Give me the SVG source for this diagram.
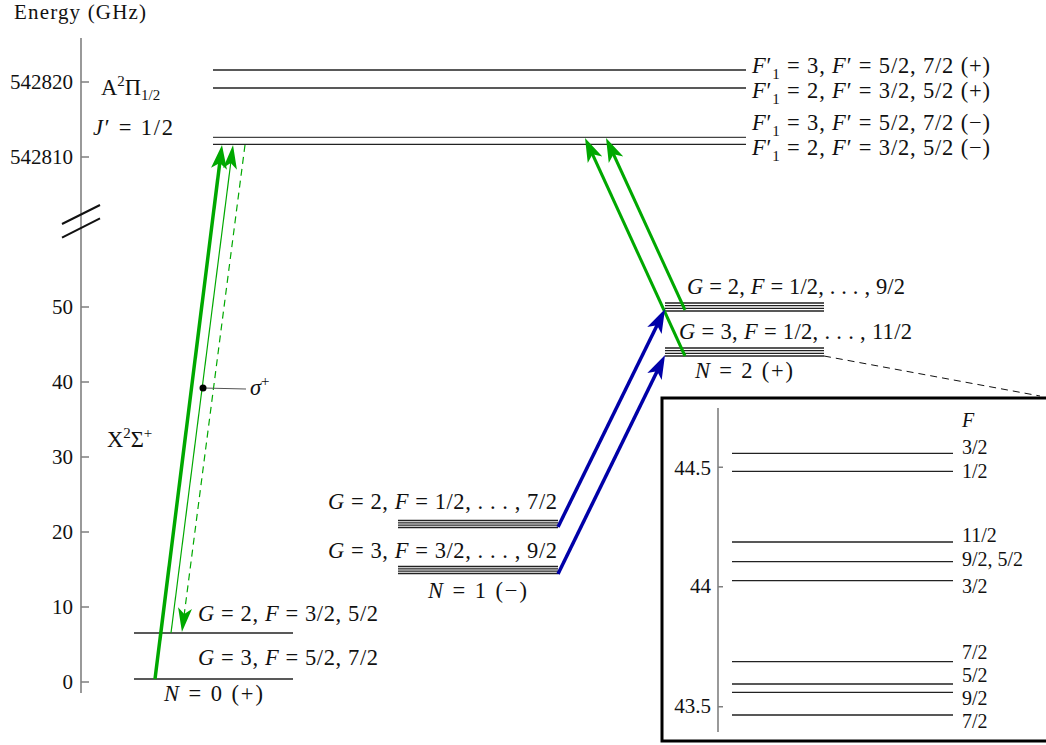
<svg xmlns="http://www.w3.org/2000/svg" width="1046" height="745" viewBox="0 0 1046 745">
<style>
.t{font-family:"Liberation Serif","Times New Roman",serif;font-size:22.5px;fill:#111}
.n{font-size:21px}
.f{font-size:20px}
.i{font-style:italic}
.s{font-size:15px}
.lv{stroke:#222;stroke-width:1.3;fill:none}
.lg{stroke:#444;stroke-width:1.3;fill:none}
.ax{stroke:#808080;stroke-width:1.6;fill:none}
.g{stroke:#00a800;fill:none}
.b{stroke:#0000a8;stroke-width:3.5;fill:none}
</style>
<defs>
<marker id="ag" markerUnits="userSpaceOnUse" markerWidth="30" markerHeight="20" viewBox="0 -10 30 20" refX="8" refY="0" orient="auto"><path d="M0,-8 L24,0 L0,8 L6,0 Z" fill="#00a800"/></marker>
<marker id="agt" markerUnits="userSpaceOnUse" markerWidth="30" markerHeight="20" viewBox="0 -10 30 20" refX="8" refY="0" orient="auto"><path d="M0,-7 L24,0 L0,7 L6,0 Z" fill="#00a800"/></marker>
<marker id="ab" markerUnits="userSpaceOnUse" markerWidth="30" markerHeight="20" viewBox="0 -10 30 20" refX="8" refY="0" orient="auto"><path d="M0,-8 L24,0 L0,8 L6,0 Z" fill="#0000a8"/></marker>
</defs>

<g id="axis">
<line class="ax" x1="81" y1="38" x2="81" y2="693"/>
<path class="ax" d="M81,82h8M81,157h8M81,307h8M81,382h8M81,457h8M81,532h8M81,607h8M81,682h8"/>
<path d="M62,224L100,205M62,237.7L100,218.3" stroke="#111" stroke-width="2"/>
<text class="t n" x="14" y="19" textLength="132" lengthAdjust="spacing">Energy (GHz)</text>
<g class="t n" text-anchor="end">
<text x="73" y="89">542820</text>
<text x="73" y="164">542810</text>
<text x="73" y="314">50</text>
<text x="73" y="389">40</text>
<text x="73" y="464">30</text>
<text x="73" y="539">20</text>
<text x="73" y="614">10</text>
<text x="73" y="689">0</text>
</g>
</g>

<g id="A-state">
<line class="lv" x1="213" y1="70" x2="746" y2="70"/>
<line class="lv" x1="213" y1="88" x2="746" y2="88"/>
<line class="lg" x1="213" y1="137.3" x2="746" y2="137.3"/>
<line class="lv" x1="213" y1="144.3" x2="746" y2="144.3"/>
<text class="t" x="101" y="95">A<tspan class="s" dy="-9">2</tspan><tspan dy="9">Π</tspan><tspan class="s" dy="5">1/2</tspan></text>
<text class="t" x="93" y="135" textLength="80" lengthAdjust="spacing"><tspan class="i">J</tspan>′ = 1/2</text>
<text class="t" x="752" y="73" textLength="238" lengthAdjust="spacing"><tspan class="i">F</tspan>′<tspan class="s" dy="6">1</tspan><tspan dy="-6"> = 3, </tspan><tspan class="i">F</tspan>′ = 5/2, 7/2 (+)</text>
<text class="t" x="752" y="98" textLength="238" lengthAdjust="spacing"><tspan class="i">F</tspan>′<tspan class="s" dy="6">1</tspan><tspan dy="-6"> = 2, </tspan><tspan class="i">F</tspan>′ = 3/2, 5/2 (+)</text>
<text class="t" x="752" y="130" textLength="238" lengthAdjust="spacing"><tspan class="i">F</tspan>′<tspan class="s" dy="6">1</tspan><tspan dy="-6"> = 3, </tspan><tspan class="i">F</tspan>′ = 5/2, 7/2 (−)</text>
<text class="t" x="752" y="155" textLength="238" lengthAdjust="spacing"><tspan class="i">F</tspan>′<tspan class="s" dy="6">1</tspan><tspan dy="-6"> = 2, </tspan><tspan class="i">F</tspan>′ = 3/2, 5/2 (−)</text>
</g>

<g id="X-label">
<text class="t" x="107" y="447">X<tspan class="s" dy="-9">2</tspan><tspan dy="9">Σ</tspan><tspan class="s" dy="-9">+</tspan></text>
</g>

<g id="N0">
<line class="lv" x1="134" y1="633" x2="293" y2="633"/>
<line class="lv" x1="134" y1="679" x2="293" y2="679"/>
<text class="t" x="198" y="621" textLength="180" lengthAdjust="spacing"><tspan class="i">G</tspan> = 2, <tspan class="i">F</tspan> = 3/2, 5/2</text>
<text class="t" x="198" y="665" textLength="180" lengthAdjust="spacing"><tspan class="i">G</tspan> = 3, <tspan class="i">F</tspan> = 5/2, 7/2</text>
<text class="t" x="164" y="701" textLength="99" lengthAdjust="spacing"><tspan class="i">N</tspan> = 0 (+)</text>
</g>

<g id="N1">
<path class="lv" stroke-width="1.1" d="M398,520.5H558M398,522.8H558M398,525.2H558M398,527.5H558"/>
<path class="lv" stroke-width="1.1" d="M398,566.5H558M398,568.8H558M398,571.2H558M398,573.5H558"/>
<text class="t" x="328" y="509" textLength="229" lengthAdjust="spacing"><tspan class="i">G</tspan> = 2, <tspan class="i">F</tspan> = 1/2, . . . , 7/2</text>
<text class="t" x="328" y="558" textLength="229" lengthAdjust="spacing"><tspan class="i">G</tspan> = 3, <tspan class="i">F</tspan> = 3/2, . . . , 9/2</text>
<text class="t" x="428" y="598" textLength="99" lengthAdjust="spacing"><tspan class="i">N</tspan> = 1 (−)</text>
</g>

<g id="N2">
<path class="lv" stroke-width="1.1" d="M665,303H824M665,305.7H824M665,308.3H824M665,311H824"/>
<path class="lv" stroke-width="1.1" d="M665,348H824M665,350.7H824M665,353.3H824M665,356H824"/>
<text class="t" x="687" y="294" textLength="218" lengthAdjust="spacing"><tspan class="i">G</tspan> = 2, <tspan class="i">F</tspan> = 1/2, . . . , 9/2</text>
<text class="t" x="679" y="339" textLength="233" lengthAdjust="spacing"><tspan class="i">G</tspan> = 3, <tspan class="i">F</tspan> = 1/2, . . . , 11/2</text>
<text class="t" x="695" y="378" textLength="98" lengthAdjust="spacing"><tspan class="i">N</tspan> = 2 (+)</text>
</g>

<g id="inset">
<rect x="662" y="398" width="400" height="343" fill="none" stroke="#000" stroke-width="3"/>
<line class="ax" x1="718" y1="408" x2="718" y2="732"/>
<path class="ax" d="M718,467.3h5M718,586.7h5M718,706.7h5"/>
<g class="t n" text-anchor="end">
<text x="711" y="475">44.5</text>
<text x="711" y="593">44</text>
<text x="711" y="713">43.5</text>
</g>
<path class="lv" d="M732,453.3H953M732,471.3H953M732,542H953M732,580.7H953M732,661.7H953M732,684H953M732,692.3H953M732,715H953"/>
<line class="lv" x1="732" y1="561.7" x2="953" y2="561.7" stroke-width="2"/>
<g class="t f">
<text x="962" y="427" class="i">F</text>
<text x="962" y="454">3/2</text>
<text x="962" y="478">1/2</text>
<text x="962" y="542">11/2</text>
<text x="962" y="566">9/2, 5/2</text>
<text x="962" y="593">3/2</text>
<text x="962" y="659">7/2</text>
<text x="962" y="681.5">5/2</text>
<text x="962" y="704.5">9/2</text>
<text x="962" y="727.5">7/2</text>
</g>
</g>

<g id="connectors">
<line x1="824" y1="356" x2="1040" y2="396" stroke="#111" stroke-width="1" stroke-dasharray="7 5"/>
<line class="g" stroke-width="3.5" x1="155" y1="679" x2="220" y2="160.9" marker-end="url(#ag)"/>
<line class="g" stroke-width="1.2" x1="171" y1="633" x2="231" y2="160.9" marker-end="url(#agt)"/>
<line class="g" stroke-width="1.2" stroke-dasharray="7 5" x1="245" y1="145" x2="184" y2="616.1" marker-end="url(#agt)"/>
<line class="g" stroke-width="3" x1="685" y1="356" x2="591.7" y2="152.5" marker-end="url(#ag)"/>
<line class="g" stroke-width="3" x1="685" y1="310" x2="612.7" y2="152.5" marker-end="url(#ag)"/>
<line class="b" x1="558" y1="527" x2="657.95" y2="323.4" marker-end="url(#ab)"/>
<line class="b" x1="558" y1="574" x2="658" y2="369.4" marker-end="url(#ab)"/>
<line x1="203" y1="388" x2="246" y2="389" stroke="#555" stroke-width="1.2"/>
<circle cx="203" cy="388" r="3.5" fill="#000"/>
<text class="t" x="250" y="395"><tspan class="i">σ</tspan><tspan class="s" dy="-9">+</tspan></text>
</g>
</svg>
